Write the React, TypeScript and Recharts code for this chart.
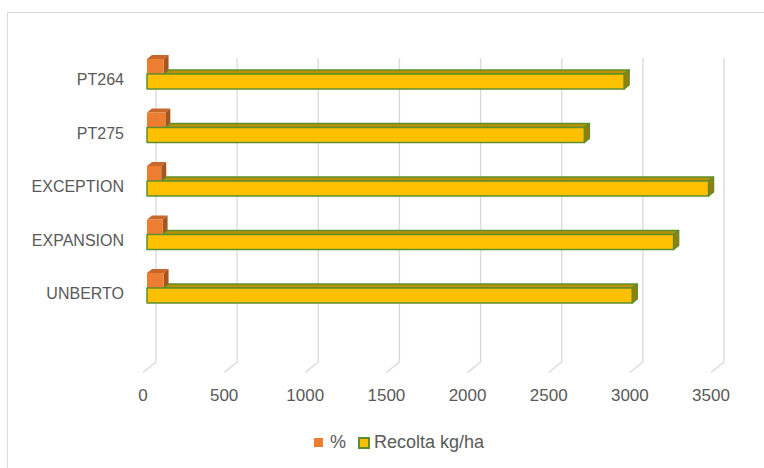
import { BarChart, Bar, XAxis, YAxis, CartesianGrid } from "recharts";

const categories = ["PT264", "PT275", "EXCEPTION", "EXPANSION", "UNBERTO", ""];
const pctValues = [102, 113, 88, 96, 102, null];
const recoltaValues = [2940, 2695, 3460, 3245, 2990, null];
const xTicks = [0, 500, 1000, 1500, 2000, 2500, 3000, 3500];

const chartData = categories.map((name, i) => ({
  name,
  pct: pctValues[i],
  recolta: recoltaValues[i],
}));

const FONT = "'Liberation Sans', Arial, sans-serif";
const TEXT = "#595959";
const GRID = "#D9D9D9";
const GREEN = "#5E8F2E";
// 3D depth of the boxes
const DX = 5;
const DY = 4;

const OrangeBox = (props: any) => {
  const { x, y, width, height } = props;
  if (!width || width <= 0) return null;
  return (
    <g>
      <polygon
        points={`${x},${y} ${x + width},${y} ${x + width + DX},${y - DY} ${x + DX},${y - DY}`}
        fill="#C8672C"
      />
      <polygon
        points={`${x + width},${y} ${x + width + DX},${y - DY} ${x + width + DX},${y + height - DY} ${x + width},${y + height}`}
        fill="#A6551E"
      />
      <rect x={x} y={y} width={width} height={height} fill="#ED7D31" />
    </g>
  );
};

const YellowBox = (props: any) => {
  const { x, y, width, height, payload } = props;
  if (!width || width <= 0) return null;
  // top face hidden behind the orange box on the left part
  const ow = payload && payload.recolta ? (payload.pct / payload.recolta) * width : 0;
  return (
    <g stroke={GREEN} strokeWidth={1.5} strokeLinejoin="round">
      <polygon
        points={`${x + ow},${y} ${x + width},${y} ${x + width + DX},${y - DY} ${x + ow + DX},${y - DY}`}
        fill="#BF9000"
      />
      <polygon
        points={`${x + width},${y} ${x + width + DX},${y - DY} ${x + width + DX},${y + height - DY} ${x + width},${y + height}`}
        fill="#9E7A00"
      />
      <rect x={x} y={y} width={width} height={height} fill="#FFC000" />
    </g>
  );
};

const gridLine = (props: any) => {
  const { x1, y1, y2, key } = props;
  const d = `M${x1 + 9},${y1 + 11} L${x1 + 9},${y2 - 6} L${x1 - 4},${y2 + 4.5}`;
  return <path key={key} d={d} stroke={GRID} strokeWidth={1.3} fill="none" />;
};

const CategoryTick = (props: any) => {
  const { x, y, payload } = props;
  return (
    <text x={x} y={y + 6} dy="0.355em" textAnchor="end" fill={TEXT} fontSize={16} fontFamily={FONT}>
      {payload.value}
    </text>
  );
};

export default function App() {
  return (
    <div style={{ position: "fixed", left: 0, top: 0, width: 764, height: 468, overflow: "hidden", background: "#fff" }}>
      <div
        style={{
          position: "absolute",
          left: 7,
          top: 12,
          width: 800,
          height: 500,
          border: `1px solid ${GRID}`,
        }}
      />
      <div style={{ position: "absolute", left: 0, top: 0 }}>
        <BarChart
          width={764}
          height={468}
          data={chartData}
          layout="vertical"
          margin={{ top: 47, right: 49, left: 0, bottom: 40 }}
          barSize={15}
          barGap={0}
        >
          <CartesianGrid horizontal={false} vertical={gridLine} />
          <XAxis
            type="number"
            domain={[0, 3500]}
            ticks={xTicks}
            axisLine={false}
            tickLine={false}
            height={60}
            tickMargin={15}
            tick={{ fill: TEXT, fontSize: 17, fontFamily: FONT, dx: -4 }}
            interval={0}
          />
          <YAxis
            type="category"
            dataKey="name"
            width={147}
            axisLine={false}
            tickLine={false}
            tickMargin={17}
            interval={0}
            tick={<CategoryTick />}
          />
          <Bar dataKey="pct" name="%" shape={<OrangeBox />} isAnimationActive={false} />
          <Bar dataKey="recolta" name="Recolta kg/ha" shape={<YellowBox />} isAnimationActive={false} />
        </BarChart>
      </div>
      <div
        style={{
          position: "absolute",
          left: 314,
          top: 432,
          display: "flex",
          alignItems: "center",
          fontFamily: FONT,
          fontSize: 18,
          color: TEXT,
        }}
      >
        <span style={{ width: 9, height: 9, background: "#ED7D31", display: "inline-block", marginRight: 7 }} />
        <span style={{ marginRight: 12 }}>%</span>
        <span
          style={{
            width: 8,
            height: 8,
            background: "#FFC000",
            border: `2px solid ${GREEN}`,
            display: "inline-block",
            marginRight: 4,
          }}
        />
        <span>Recolta kg/ha</span>
      </div>
    </div>
  );
}
